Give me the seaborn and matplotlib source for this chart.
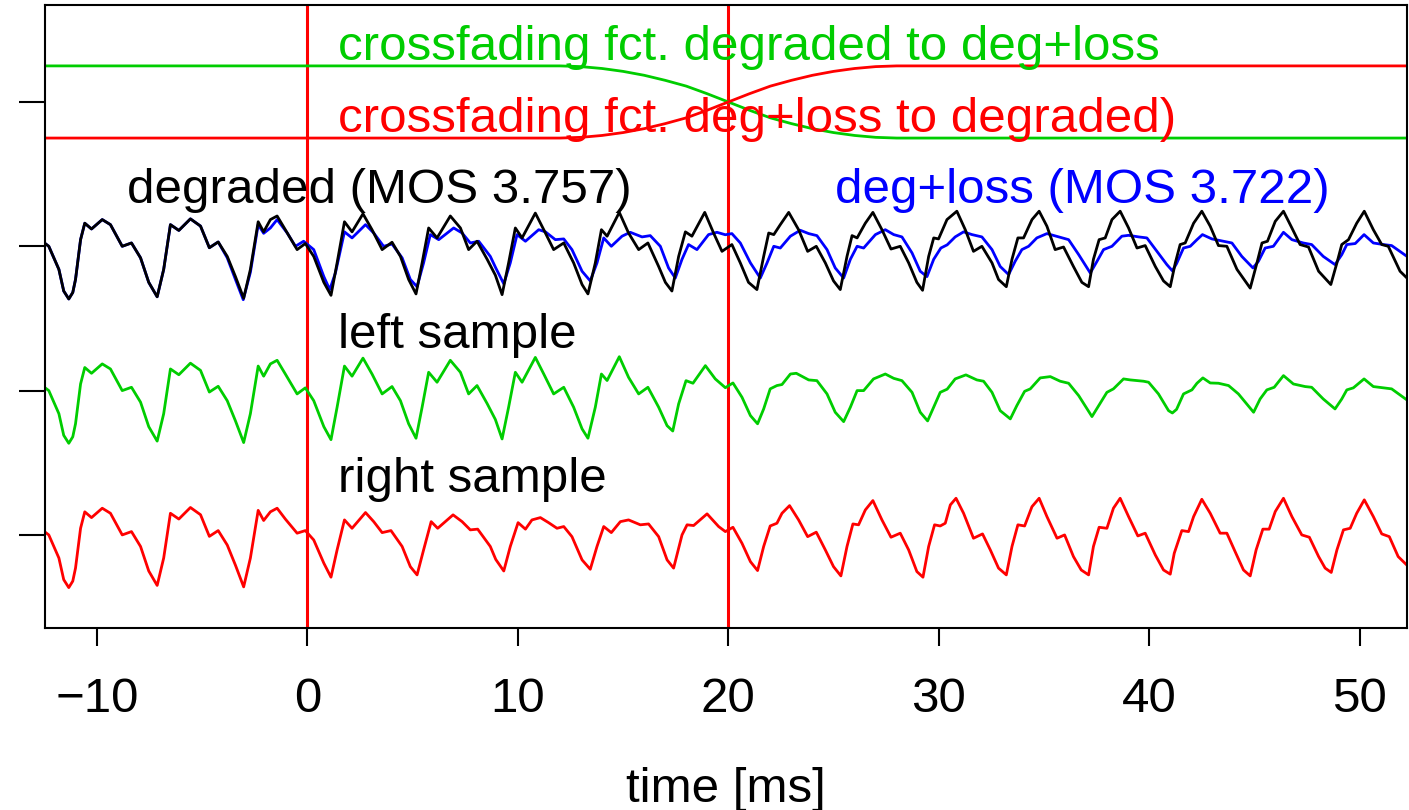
import numpy as np
import pandas as pd
import matplotlib
matplotlib.use("Agg")
import matplotlib.pyplot as plt
import seaborn as sns

# values: (time [ms], amplitude relative to the trace baseline)
# common start, identical for all four traces
pre_pts = [(-12.47, 0.02), (-12.29, 0.0), (-11.81, -0.16), (-11.58, -0.31), (-11.34, -0.365),
           (-11.15, -0.32), (-11.02, -0.23), (-10.78, 0.046), (-10.58, 0.16), (-10.26, 0.12),
           (-9.75, 0.185), (-9.36, 0.15), (-8.80, 0.0), (-8.36, 0.023), (-7.93, -0.08),
           (-7.54, -0.25), (-7.14, -0.35), (-6.83, -0.16), (-6.51, 0.15), (-6.11, 0.11),
           (-5.56, 0.19), (-5.08, 0.14), (-4.66, -0.01), (-4.24, 0.03)]

black_pts = [(-3.81, -0.07), (-3.42, -0.21), (-3.03, -0.36), (-2.71, -0.16), (-2.34, 0.17),
             (-2.08, 0.10), (-1.76, 0.185), (-1.44, 0.21), (-1.05, 0.115), (-0.49, -0.023),
             (-0.10, 0.019), (0.30, -0.07), (0.78, -0.25), (1.12, -0.34), (1.41, -0.115),
             (1.76, 0.17), (2.12, 0.10), (2.64, 0.225), (3.07, 0.115), (3.55, -0.023),
             (4.02, 0.028), (4.42, -0.07), (4.81, -0.23), (5.16, -0.33), (5.45, -0.115),
             (5.76, 0.127), (6.16, 0.058), (6.79, 0.21), (7.27, 0.127), (7.66, -0.023),
             (8.06, 0.035), (8.54, -0.09), (8.93, -0.2), (9.25, -0.335), (9.56, -0.115),
             (9.88, 0.127), (10.20, 0.058), (10.83, 0.23), (11.23, 0.115), (11.70, -0.023),
             (12.18, 0.023), (12.65, -0.115), (13.05, -0.265), (13.33, -0.33), (13.68, -0.115),
             (13.97, 0.115), (14.24, 0.07), (14.82, 0.235), (15.26, 0.092), (15.74, -0.023),
             (16.18, 0.023)]

black_end_pts = [(16.69, -0.14), (17.01, -0.25), (17.32, -0.31), (17.64, -0.07), (17.96, 0.10),
                 (18.27, 0.07), (18.88, 0.235), (19.30, 0.092), (19.70, -0.035), (20.17, 0.012),
                 (20.57, -0.115), (20.96, -0.25), (21.36, -0.30), (21.68, -0.07), (21.92, 0.092),
                 (22.16, 0.081), (22.47, 0.15), (22.87, 0.235), (23.34, 0.115), (23.77, -0.035),
                 (24.18, 0.0), (24.61, -0.115), (25.00, -0.24), (25.32, -0.30), (25.64, -0.07),
                 (25.88, 0.074), (26.12, 0.058), (26.51, 0.16), (26.87, 0.235), (27.30, 0.115),
                 (27.73, -0.019), (28.17, 0.0), (28.57, -0.115), (28.96, -0.25), (29.23, -0.305),
                 (29.52, -0.07), (29.76, 0.058), (29.99, 0.051), (30.39, 0.185), (30.86, 0.243),
                 (31.26, 0.115), (31.65, -0.035), (32.05, 0.0), (32.53, -0.115), (32.84, -0.23),
                 (33.21, -0.28), (33.48, -0.09), (33.76, 0.058), (34.03, 0.058), (34.43, 0.185),
                 (34.77, 0.243), (35.14, 0.139), (35.53, -0.023), (35.93, -0.005), (36.40, -0.14),
                 (36.80, -0.25), (37.12, -0.28), (37.35, -0.09), (37.62, 0.046), (37.91, 0.058),
                 (38.23, 0.185), (38.62, 0.243), (39.02, 0.127), (39.42, -0.012), (39.81, 0.005),
                 (40.29, -0.14), (40.68, -0.24), (41.00, -0.28), (41.24, -0.115), (41.47, 0.012),
                 (41.71, 0.023), (42.11, 0.16), (42.50, 0.243), (42.90, 0.139), (43.29, 0.005),
                 (43.69, 0.0), (44.17, -0.16), (44.80, -0.29), (45.12, -0.115), (45.36, 0.023),
                 (45.62, 0.035), (45.99, 0.173), (46.38, 0.243), (46.78, 0.127), (47.17, 0.012),
                 (47.57, -0.005), (48.05, -0.173), (48.63, -0.265), (48.92, -0.115), (49.15, 0.012),
                 (49.47, 0.046), (49.86, 0.16), (50.22, 0.243), (50.65, 0.115), (51.05, 0.012),
                 (51.36, 0.0), (51.92, -0.173), (52.25, -0.22)]

blue_pts = [(-3.81, -0.08), (-3.42, -0.23), (-3.05, -0.37), (-2.71, -0.18), (-2.34, 0.15),
            (-2.08, 0.09), (-1.76, 0.127), (-1.44, 0.185), (-0.96, 0.092), (-0.57, 0.0),
            (-0.18, 0.035), (0.30, -0.023), (0.78, -0.21), (1.06, -0.30), (1.33, -0.185),
            (1.76, 0.10), (2.12, 0.058), (2.76, 0.15), (3.15, 0.092), (3.62, 0.0),
            (4.02, 0.016), (4.50, -0.08), (4.89, -0.23), (5.21, -0.28), (5.52, -0.115),
            (5.84, 0.081), (6.24, 0.046), (6.95, 0.127), (7.35, 0.092), (7.74, 0.023),
            (8.14, 0.035), (8.69, -0.07), (8.95, -0.15), (9.33, -0.26), (9.64, -0.115),
            (9.96, 0.081), (10.36, 0.035), (10.99, 0.115), (11.31, 0.10), (11.78, 0.046),
            (12.18, 0.051), (12.57, -0.023), (13.05, -0.173), (13.44, -0.24), (13.76, -0.115),
            (14.08, 0.058), (14.44, 0.0), (14.95, 0.07), (15.34, 0.097), (15.90, 0.065),
            (16.29, 0.074), (16.77, 0.0), (17.16, -0.15), (17.48, -0.22), (17.80, -0.09),
            (18.11, 0.012), (18.51, -0.023), (19.06, 0.081), (19.46, 0.097), (19.86, 0.08),
            (20.17, 0.088), (20.57, 0.023), (21.05, -0.115), (21.52, -0.22), (21.84, -0.115),
            (22.16, 0.0), (22.47, -0.012), (22.95, 0.07), (23.42, 0.111), (23.82, 0.088),
            (24.21, 0.074), (24.69, -0.023), (25.08, -0.15), (25.48, -0.22), (25.80, -0.09),
            (26.12, 0.0), (26.43, -0.012), (26.99, 0.081), (27.46, 0.115), (27.86, 0.081),
            (28.25, 0.065), (28.73, -0.046), (29.12, -0.173), (29.44, -0.21), (29.76, -0.09),
            (30.10, -0.012), (30.40, 0.01), (30.78, 0.065), (31.18, 0.10), (31.58, 0.081),
            (32.05, 0.065), (32.53, -0.023), (32.92, -0.14), (33.32, -0.196), (33.63, -0.104),
            (33.95, -0.023), (34.27, 0.0), (34.66, 0.058), (35.14, 0.088), (35.70, 0.065),
            (36.17, 0.046), (36.65, -0.058), (37.20, -0.185), (37.52, -0.104), (37.83, -0.023),
            (38.23, 0.0), (38.70, 0.07), (39.02, 0.076), (39.50, 0.065), (39.89, 0.058),
            (40.37, -0.035), (40.84, -0.127), (41.10, -0.17), (41.30, -0.12), (41.63, -0.012),
            (41.95, 0.0), (42.27, 0.046), (42.53, 0.081), (42.98, 0.051), (43.53, 0.035),
            (43.93, 0.023), (44.40, -0.07), (44.93, -0.15), (45.19, -0.104), (45.51, -0.012),
            (45.90, 0.0), (46.38, 0.097), (46.78, 0.046), (47.32, 0.023), (47.72, 0.012),
            (48.27, -0.07), (48.83, -0.127), (49.15, -0.058), (49.39, 0.012), (49.79, 0.019),
            (50.21, 0.081), (50.65, 0.023), (51.13, 0.012), (51.52, 0.005), (52.25, -0.07)]

green_end_pts = [(16.69, -0.115), (17.09, -0.243), (17.36, -0.28), (17.64, -0.092), (17.99, 0.069),
                 (18.32, 0.051), (18.91, 0.173), (19.38, 0.081), (19.86, 0.02), (20.22, 0.053),
                 (20.65, -0.046), (21.05, -0.173), (21.39, -0.23), (21.68, -0.127), (21.99, 0.012),
                 (22.31, 0.035), (22.55, 0.042), (22.95, 0.115), (23.23, 0.12), (23.82, 0.074),
                 (24.21, 0.069), (24.69, -0.023), (25.08, -0.15), (25.48, -0.215), (25.80, -0.115),
                 (26.12, 0.0), (26.43, 0.0), (26.90, 0.081), (27.46, 0.115), (27.86, 0.085),
                 (28.25, 0.069), (28.73, -0.012), (29.12, -0.15), (29.47, -0.21), (29.76, -0.115),
                 (30.07, -0.012), (30.40, 0.01), (30.78, 0.081), (31.29, 0.109), (31.81, 0.074),
                 (32.13, 0.065), (32.53, -0.012), (32.92, -0.139), (33.40, -0.196), (33.71, -0.104),
                 (34.08, -0.005), (34.35, 0.012), (34.82, 0.088), (35.30, 0.097), (35.77, 0.065),
                 (36.17, 0.051), (36.65, -0.035), (37.28, -0.18), (37.60, -0.104), (37.99, -0.012),
                 (38.30, 0.012), (38.78, 0.081), (39.10, 0.074), (39.73, 0.065), (39.97, 0.058),
                 (40.44, -0.023), (40.92, -0.139), (41.10, -0.155), (41.30, -0.13), (41.63, -0.023),
                 (42.03, 0.005), (42.27, 0.051), (42.55, 0.088), (42.90, 0.053), (43.29, 0.051),
                 (43.77, 0.035), (44.24, -0.023), (44.96, -0.15), (45.27, -0.058), (45.59, 0.005),
                 (45.94, 0.023), (46.38, 0.104), (46.85, 0.046), (47.41, 0.028), (47.72, 0.023),
                 (48.27, -0.058), (48.83, -0.127), (49.15, -0.058), (49.39, 0.005), (49.70, 0.019),
                 (50.21, 0.081), (50.65, 0.028), (51.13, 0.019), (51.52, 0.012), (52.25, -0.065)]

red_pts = [(-3.81, -0.07), (-3.42, -0.21), (-3.03, -0.36), (-2.71, -0.16), (-2.34, 0.17),
           (-2.08, 0.10), (-1.76, 0.16), (-1.44, 0.185), (-1.05, 0.11), (-0.49, 0.012),
           (-0.10, 0.03), (0.30, -0.035), (0.78, -0.196), (1.12, -0.293), (1.41, -0.104),
           (1.76, 0.104), (2.12, 0.046), (2.76, 0.155), (3.15, 0.092), (3.55, 0.016),
           (3.97, 0.03), (4.50, -0.08), (4.89, -0.22), (5.21, -0.277), (5.52, -0.104),
           (5.88, 0.092), (6.19, 0.046), (6.92, 0.139), (7.35, 0.092), (7.74, 0.035),
           (8.09, 0.04), (8.69, -0.08), (8.95, -0.17), (9.33, -0.25), (9.64, -0.08),
           (10.01, 0.085), (10.36, 0.04), (10.67, 0.104), (11.07, 0.12), (11.46, 0.085),
           (11.86, 0.046), (12.18, 0.058), (12.57, -0.012), (13.05, -0.173), (13.44, -0.238),
           (13.76, -0.08), (14.08, 0.058), (14.44, 0.016), (14.87, 0.092), (15.26, 0.104),
           (15.82, 0.07), (16.21, 0.076), (16.69, -0.012), (17.09, -0.173), (17.40, -0.23),
           (17.80, 0.0), (18.04, 0.07), (18.35, 0.065), (18.99, 0.146), (19.54, 0.058),
           (19.86, 0.023), (20.22, 0.053), (20.65, -0.058), (21.05, -0.185), (21.39, -0.247),
           (21.68, -0.08), (21.99, 0.062), (22.31, 0.081), (22.55, 0.15), (22.91, 0.203),
           (23.34, 0.104), (23.77, -0.012), (24.18, 0.019), (24.61, -0.104), (25.00, -0.22),
           (25.35, -0.284), (25.64, -0.08), (25.92, 0.076), (26.19, 0.07), (26.51, 0.173),
           (26.87, 0.238), (27.30, 0.104), (27.73, -0.016), (28.17, 0.012), (28.57, -0.104),
           (28.96, -0.254), (29.25, -0.293), (29.52, -0.08), (29.80, 0.07), (30.07, 0.062),
           (30.31, 0.081), (30.55, 0.208), (30.82, 0.254), (31.18, 0.15), (31.65, -0.023),
           (32.08, 0.007), (32.45, -0.104), (32.84, -0.23), (33.21, -0.277), (33.48, -0.08),
           (33.76, 0.07), (34.08, 0.062), (34.43, 0.196), (34.77, 0.254), (35.14, 0.127),
           (35.62, -0.023), (35.98, 0.0), (36.40, -0.15), (36.77, -0.243), (37.12, -0.277),
           (37.35, -0.08), (37.62, 0.053), (37.99, 0.046), (38.30, 0.185), (38.62, 0.254),
           (39.02, 0.127), (39.46, -0.007), (39.81, 0.012), (40.29, -0.139), (40.68, -0.243),
           (41.00, -0.272), (41.19, -0.127), (41.55, 0.03), (41.87, 0.023), (42.11, 0.127),
           (42.50, 0.247), (42.90, 0.15), (43.37, 0.012), (43.69, 0.012), (44.08, -0.115),
           (44.48, -0.243), (44.80, -0.284), (45.08, -0.104), (45.40, 0.04), (45.70, 0.04),
           (45.99, 0.162), (46.38, 0.254), (46.78, 0.127), (47.25, 0.0), (47.61, -0.016),
           (48.05, -0.15), (48.36, -0.23), (48.65, -0.26), (48.92, -0.104), (49.23, 0.035),
           (49.55, 0.046), (49.86, 0.15), (50.22, 0.243), (50.65, 0.127), (51.05, 0.007),
           (51.41, -0.012), (51.83, -0.15), (52.25, -0.21)]

# crossfading functions
fade_t = [-12.47, 12, 13, 14, 15, 16, 17, 18, 19, 20, 21, 22, 23, 24, 25, 26, 27, 28, 52.25]
fade_green = [0.25, 0.25, 0.245, 0.232, 0.212, 0.185, 0.15, 0.11, 0.057, 0.0,
              -0.057, -0.11, -0.15, -0.185, -0.212, -0.232, -0.245, -0.25, -0.25]
fade_red = [-0.25, -0.25, -0.245, -0.232, -0.212, -0.185, -0.15, -0.11, -0.057, 0.0,
            0.057, 0.11, 0.15, 0.185, 0.212, 0.232, 0.245, 0.25, 0.25]

# baseline of each trace (y ticks)
offsets = {"fade": 3, "degraded": 2, "left": 1, "right": 0}
marker_times = [0, 20]
x_ticks = [-10, 0, 10, 20, 30, 40, 50]

labels = [
    ("crossfading fct. degraded to deg+loss", 1.45, 3.38, "#00CD00"),
    ("crossfading fct. deg+loss to degraded)", 1.45, 2.88, "#FF0000"),
    ("degraded (MOS 3.757)", -8.55, 2.385, "black"),
    ("deg+loss (MOS 3.722)", 25.05, 2.385, "#0000FF"),
    ("left sample", 1.45, 1.385, "black"),
    ("right sample", 1.45, 0.385, "black"),
]


def to_frame(pts, name, base):
    t = [p[0] for p in pts]
    y = [p[1] + base for p in pts]
    return pd.DataFrame({"t": t, "y": y, "curve": name})


curves = pd.concat([
    pd.DataFrame({"t": fade_t, "y": np.array(fade_green) + offsets["fade"], "curve": "fade_g"}),
    pd.DataFrame({"t": fade_t, "y": np.array(fade_red) + offsets["fade"], "curve": "fade_r"}),
    to_frame(pre_pts + blue_pts, "blue", offsets["degraded"]),
    to_frame(pre_pts + black_pts + black_end_pts, "black", offsets["degraded"]),
    to_frame(pre_pts + black_pts + green_end_pts, "green", offsets["left"]),
    to_frame(pre_pts + red_pts, "red", offsets["right"]),
], ignore_index=True)

palette = {"fade_g": "#00CD00", "fade_r": "#FF0000", "blue": "#0000FF",
           "black": "black", "green": "#00CD00", "red": "#FF0000"}

sns.set_style("ticks")
plt.rcParams["font.family"] = ["Liberation Sans", "DejaVu Sans"]
plt.rcParams["text.color"] = "black"
plt.rcParams["axes.labelcolor"] = "black"
plt.rcParams["xtick.color"] = "black"
plt.rcParams["ytick.color"] = "black"

fig = plt.figure(figsize=(14.09, 8.10), dpi=100)
ax = fig.add_axes([45 / 1409, 1 - 628 / 810, 1362 / 1409, 623 / 810])

for tv in marker_times:
    ax.axvline(tv, color="#FF0000", lw=2.2, zorder=1)

sns.lineplot(data=curves, x="t", y="y", hue="curve", palette=palette, units="curve",
             estimator=None, sort=False, legend=False, lw=2.0, ax=ax, zorder=2,
             solid_joinstyle="round", solid_capstyle="round")

for txt, tx, ty, col in labels:
    ax.text(tx, ty, txt, color=col, fontsize=35.5, ha="left", va="center", zorder=3)

ax.set_xlim(-12.47, 52.25)
ax.set_ylim(-0.645, 3.672)
ax.set_xticks(x_ticks)
ax.set_yticks([0, 1, 2, 3])
ax.set_yticklabels([])
ax.set_ylabel("")
ax.set_xlabel("time [ms]", fontsize=35.5, va="center")
ax.xaxis.set_label_coords(0.5, -0.26)
ax.tick_params(axis="x", labelsize=35.5, labelcolor="black", length=13, width=1.5, pad=22)
ax.tick_params(axis="y", length=19, width=1.5)
for sp in ax.spines.values():
    sp.set_visible(True)
    sp.set_color("black")
    sp.set_linewidth(1.5)

fig.savefig("out.png", dpi=100, facecolor="white")
